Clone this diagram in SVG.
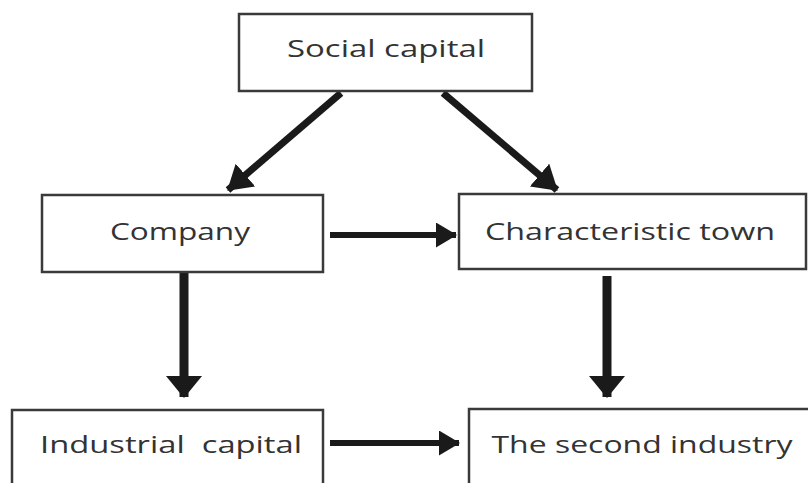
<svg xmlns="http://www.w3.org/2000/svg" width="808" height="483" viewBox="0 0 808 483">
  <style>
    .box { fill: #ffffff; stroke: #3a3a3a; stroke-width: 2.5; }
    .label { font-family: "Open Sans", "DejaVu Sans", sans-serif; font-size: 24px; fill: #333333; text-anchor: middle; }
    .edge { stroke: #1a1a1a; fill: none; }
    .h { stroke-width: 6; marker-end: url(#head-h); }
    .v { stroke-width: 9; marker-end: url(#head-v); }
    .d { stroke-width: 7; marker-end: url(#head-d); }
  </style>
  <defs>
    <!-- arrowheads: x-axis runs along the line -->
    <marker id="head-h" markerUnits="userSpaceOnUse" markerWidth="21" markerHeight="25" refX="20" refY="12.5" orient="auto">
      <path d="M0,0 L21,12.5 L0,25 Z" fill="#1a1a1a"/>
    </marker>
    <marker id="head-v" markerUnits="userSpaceOnUse" markerWidth="22" markerHeight="36" refX="21" refY="18" orient="auto">
      <path d="M0,0 L22,18 L0,36 Z" fill="#1a1a1a"/>
    </marker>
    <marker id="head-d" markerUnits="userSpaceOnUse" markerWidth="24" markerHeight="30" refX="23" refY="15" orient="auto">
      <path d="M0,0 L24,15 L0,30 Z" fill="#1a1a1a"/>
    </marker>
  </defs>

  <rect width="808" height="483" fill="#ffffff"/>

  <g id="connectors">
    <line class="edge d" x1="341" y1="93" x2="228" y2="190"/>
    <line class="edge d" x1="443" y1="93" x2="557" y2="190"/>
    <line class="edge h" x1="330" y1="235" x2="456" y2="235"/>
    <line class="edge v" x1="184" y1="273" x2="184" y2="397"/>
    <line class="edge v" x1="607" y1="276" x2="607" y2="397"/>
    <line class="edge h" x1="330" y1="443" x2="459" y2="443"/>
  </g>

  <g id="social-capital">
    <rect class="box" x="239" y="14" width="293" height="77"/>
    <text class="label" x="386" y="57" textLength="198" lengthAdjust="spacingAndGlyphs">Social capital</text>
  </g>
  <g id="company">
    <rect class="box" x="42" y="195" width="281" height="77"/>
    <text class="label" x="180" y="240" textLength="140" lengthAdjust="spacingAndGlyphs">Company</text>
  </g>
  <g id="characteristic-town">
    <rect class="box" x="459" y="194" width="347" height="75"/>
    <text class="label" x="630" y="240" textLength="290" lengthAdjust="spacingAndGlyphs">Characteristic town</text>
  </g>
  <g id="industrial-capital">
    <rect class="box" x="12" y="410" width="311" height="90"/>
    <text class="label" x="171" y="453" textLength="262" lengthAdjust="spacingAndGlyphs" xml:space="preserve">Industrial  capital</text>
  </g>
  <g id="second-industry">
    <rect class="box" x="469" y="409" width="350" height="90"/>
    <text class="label" x="642" y="453" textLength="301" lengthAdjust="spacingAndGlyphs">The second industry</text>
  </g>
</svg>
